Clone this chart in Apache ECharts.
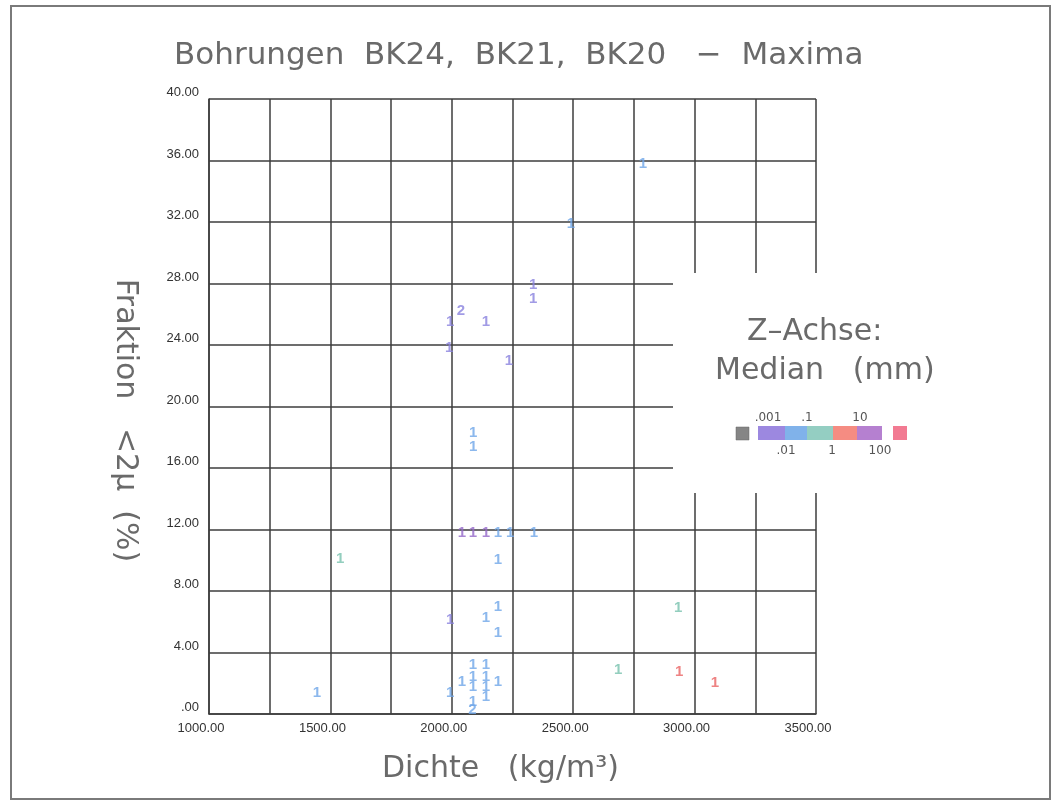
<!DOCTYPE html>
<html>
<head>
<meta charset="utf-8">
<script src="https://cdn.jsdelivr.net/npm/echarts@6/dist/echarts.min.js"></script>
<style>html,body{margin:0;padding:0;background:#fff}#c{width:1054px;height:807px}</style>
</head>
<body>
<div id="c"></div>
<script>
// ---- data ----
const density = [1445,1540,1993,1993,2042,2087,2141,2190,2240,2338,2190,2190,2141,2190,
  2042,2087,2087,2087,2087,2085,2141,2141,2141,2141,2190,
  1993,2038,2141,1989,2235,2088,2088,2335,2335,2787,2491,2932,2685,2936,3084];
const fraction = [1.4,10.1,6.1,1.4,11.8,11.8,11.8,11.8,11.8,11.8,10.0,7.0,6.25,5.3,
  2.1,3.2,2.4,1.75,0.8,0.25,3.2,2.4,1.75,1.1,2.1,
  25.5,26.2,25.5,23.8,23.0,18.3,17.4,27.9,27.0,35.8,31.9,6.9,2.86,2.73,2.0];
const pointText = ['1','1','1','1','1','1','1','1','1','1','1','1','1','1',
  '1','1','1','1','1','2','1','1','1','1','1',
  '1','2','1','1','1','1','1','1','1','1','1','1','1','1','1'];
// median class: 0 lavender(.001-.01) 1 blue(.01-.1) 2 teal(.1-1) 3 red(1-10) 4 purple(10-100)
const medianClass = [1,2,0,1,4,4,4,1,1,1,1,1,1,1,
  1,1,1,1,1,1,1,1,1,1,1,
  0,0,0,0,0,1,1,0,0,1,1,2,2,3,3];
const classColors = ['#8a82de','#6fa6e8','#78c2ae','#ea6464','#9468c8'];
const xTicks = [1000,1500,2000,2500,3000,3500];
const legendTop = ['.001','.1','10'];
const legendBottom = ['.01','1','100'];
const legendColors = ['#9c88e0','#80b2ea','#94cec2','#f58c82','#b580d0'];

const data = density.map((x,i)=>({
  value:[x, fraction[i], pointText[i]],
  label:{color: classColors[medianClass[i]]}
}));

const chart = echarts.init(document.getElementById('c'));
const gridCol = '#3c3c3c';
const tickFont = '"Liberation Sans", sans-serif';
const textFont = '"DejaVu Sans", sans-serif';
const textCol = '#6a6a6a';

// legend graphics
const g = [];
g.push({type:'rect', shape:{x:11,y:6,width:1039,height:793}, style:{fill:'none',stroke:'#7a7a7a',lineWidth:2}, z:1});
g.push({type:'rect', shape:{x:673,y:273,width:260,height:220}, style:{fill:'#fff'}, z:50});
g.push({type:'text', x:747, y:332, style:{text:'Z\u2013Achse:', font:'30px '+textFont, fill:textCol, align:'left', verticalAlign:'middle'}, z:60});
g.push({type:'text', x:715, y:371, style:{text:'Median   (mm)', font:'30px '+textFont, fill:textCol, align:'left', verticalAlign:'middle'}, z:60});
g.push({type:'rect', shape:{x:736,y:427,width:13,height:13}, style:{fill:'#858585',stroke:'#666',lineWidth:0.5}, z:60});
const segX = [758,785,807,833,857,882];
legendColors.forEach((c,i)=>{
  g.push({type:'rect', shape:{x:segX[i],y:426,width:segX[i+1]-segX[i],height:14}, style:{fill:c}, z:60});
});
g.push({type:'rect', shape:{x:893,y:426,width:14,height:14}, style:{fill:'#f27a92'}, z:60});
const topX=[768,807,860], botX=[786,832,880];
legendTop.forEach((t,i)=>g.push({type:'text',x:topX[i],y:418,style:{text:t,font:'12px '+textFont,fill:'#555',align:'center',verticalAlign:'middle'},z:60}));
legendBottom.forEach((t,i)=>g.push({type:'text',x:botX[i],y:451,style:{text:t,font:'12px '+textFont,fill:'#555',align:'center',verticalAlign:'middle'},z:60}));

chart.setOption({
  backgroundColor:'#fff',
  animation:false,
  title:{
    text:'Bohrungen  BK24,  BK21,  BK20   \u2212  Maxima',
    left:169, top:35,
    textStyle:{fontFamily:textFont, fontSize:31, fontWeight:'normal', color:textCol, lineHeight:31}
  },
  grid:{left:209, right:238, top:99, bottom:93},
  xAxis:{
    type:'value', min:1000, max:3500, interval:250,
    name:'Dichte   (kg/m\u00B3)', nameLocation:'middle', nameGap:40,
    nameTextStyle:{fontFamily:textFont, fontSize:30, color:textCol, padding:[0,24,0,0]},
    axisLine:{show:true, lineStyle:{color:gridCol, width:1.5}},
    axisTick:{show:false},
    splitLine:{show:true, lineStyle:{color:gridCol, width:1.5}},
    axisLabel:{
      margin:8, color:'#333', fontFamily:tickFont, fontSize:13, padding:[0,16,0,0],
      formatter:v => xTicks.includes(v) ? v.toFixed(2) : ''
    }
  },
  yAxis:{
    type:'value', min:0, max:40, interval:4,
    name:'Fraktion   <2\u03BC  (%)', nameLocation:'middle', nameGap:69, nameRotate:-90,
    nameTextStyle:{fontFamily:textFont, fontSize:30, color:textCol, padding:[0,0,0,28]},
    axisLine:{show:true, lineStyle:{color:gridCol, width:1.5}},
    axisTick:{show:false},
    splitLine:{show:true, lineStyle:{color:gridCol, width:1.5}},
    axisLabel:{
      margin:10, color:'#333', fontFamily:tickFont, fontSize:13, verticalAlign:'bottom',
      formatter:v => v===0 ? '.00' : v.toFixed(2)
    }
  },
  series:[{
    type:'scatter',
    symbol:'circle', symbolSize:2,
    itemStyle:{color:'rgba(0,0,0,0)'},
    data:data,
    label:{
      show:true, position:'inside',
      formatter:p => p.value[2],
      fontFamily:tickFont, fontSize:15, fontWeight:'bold'
    },
    z:5
  }],
  graphic:g
});
</script>
</body>
</html>
